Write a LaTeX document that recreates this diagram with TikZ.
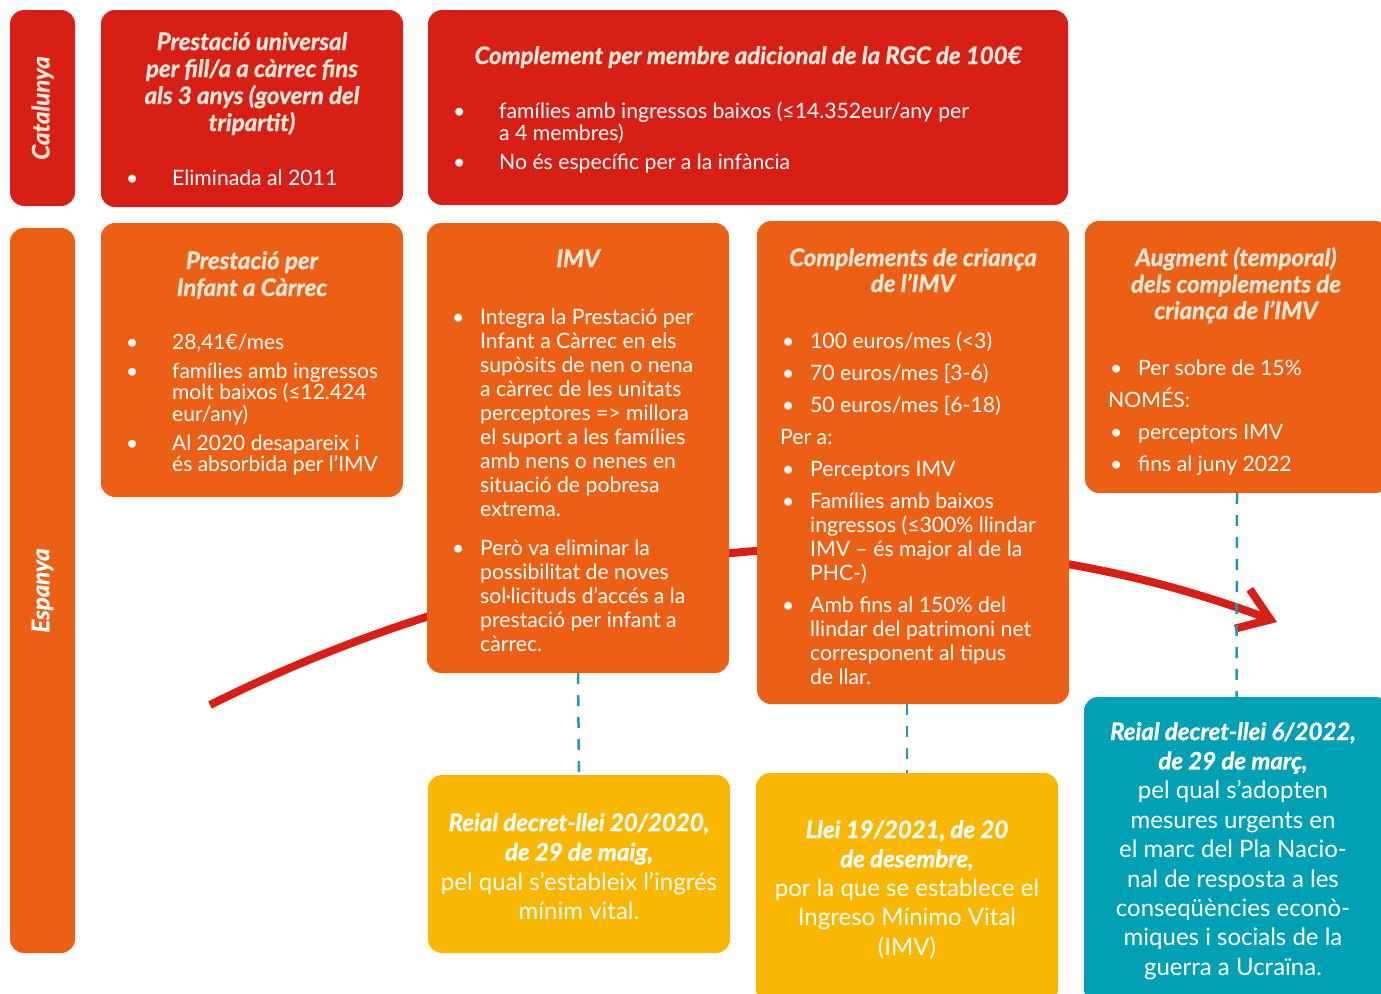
\documentclass[tikz,border=0pt]{standalone}
\usepackage{fontspec}
\setmainfont{Lato}
\newfontfamily\heavyf{Lato}[FakeBold=1.2]
\usetikzlibrary{arrows.meta}
\definecolor{cred}{RGB}{215,31,22}
\definecolor{corange}{RGB}{236,96,22}
\definecolor{cyellow}{RGB}{249,183,0}
\definecolor{cteal}{RGB}{0,160,181}
\definecolor{ccream}{RGB}{238,230,214}
\definecolor{cdash}{RGB}{27,156,175}
\newcommand\vt[2]{\vtop{\hsize=#1pt\parindent=0pt\parskip=0pt\rightskip=0pt plus 1fil\relax #2\par}}
\newcommand\vc[2]{\vtop{\hsize=#1pt\centering\parskip=0pt\relax #2\par}}
\newcommand\itm[3]{\par\hangindent=#2pt\hangafter=1\noindent\hspace*{#1pt}\makebox[\dimexpr#2pt-#1pt\relax][l]{\textbullet}#3\par}
\newcommand\ttlfont{\heavyf\bfseries\itshape}
\newcommand\bodysize{\fontsize{21.2}{24}\selectfont}
\tikzset{
  box/.style={rounded corners=14pt, inner sep=0pt, draw=none},
  txt/.style={inner sep=0pt, anchor=base west, text=white},
  ttl/.style={inner sep=0pt, anchor=base, text=ccream},
  ctr/.style={inner sep=0pt, anchor=base, text=white},
  dashln/.style={draw=cdash, line width=2.5pt, dash pattern=on 11pt off 11pt},
  redline/.style={draw=cred, line width=8pt}
}
\begin{document}
\begin{tikzpicture}[x=1pt,y=-1pt]
\fill[white] (0,0) rectangle (1381,993);
\useasboundingbox (0,0) rectangle (1381,993);

% red curve (behind boxes)
\coordinate (cs) at (210,705);
\coordinate (ce) at (1277,622);
\draw[redline, -{Straight Barb[length=30pt,width=42pt]}] (cs) .. controls (500,560) and (900,480) .. (ce);

% row labels
\node[box, fill=cred, minimum width=65pt, minimum height=196pt] (cat) at (42.5,108) {};
\node[rotate=90, inner sep=0pt, text=ccream, font=\ttlfont\fontsize{24}{27}\selectfont] (catl) at (cat.center) {Catalunya};
\node[box, fill=corange, minimum width=65pt, minimum height=725pt] (esp) at (42.5,590.5) {};
\node[rotate=90, inner sep=0pt, text=white, font=\ttlfont\fontsize{24}{27}\selectfont] (espl) at (esp.center) {Espanya};

% Catalunya boxes
\node[box, fill=cred, minimum width=302pt, minimum height=197pt] (b1) at (252,108.5) {};
\node[ttl] (b1t) at (252,50) {\vc{300}{\fontsize{24}{27}\selectfont\ttlfont Prestació universal\\per fill/a a càrrec fins\\als 3 anys (govern del\\tripartit)}};
\node[txt] (b1l) at (126,185) {\vt{270}{\bodysize\itm{0}{46}{Eliminada al 2011}}};

\node[box, fill=cred, minimum width=640pt, minimum height=195pt] (b2) at (748,107.5) {};
\node[ttl] (b2t) at (748,64) {\vc{630}{\fontsize{24}{27}\selectfont\ttlfont Complement per membre adicional de la RGC de 100€}};
\node[txt] (b2l) at (453,118) {\vt{600}{\fontsize{21.2}{22}\selectfont
  \itm{0}{46}{famílies amb ingressos baixos (≤14.352eur/any per\\a 4 membres)}\vspace{7pt}
  \itm{0}{46}{No és específic per a la infància}}};

% Espanya boxes
\node[box, fill=corange, minimum width=302pt, minimum height=274pt] (pic) at (252,360) {};
\node[ttl] (pict) at (252,269) {\vc{300}{\fontsize{24}{27}\selectfont\ttlfont Prestació per\\Infant a Càrrec}};
\node[txt] (picl) at (126,349) {\vt{290}{\fontsize{21}{21.5}\selectfont
  \itm{0}{46}{28,41€/mes}\vspace{7.5pt}
  \itm{0}{46}{famílies amb ingressos\\molt baixos (≤12.424\\eur/any)}\vspace{7.5pt}
  \itm{0}{46}{Al 2020 desapareix i\\és absorbida per l’IMV}}};

\node[box, fill=corange, minimum width=302pt, minimum height=450pt] (imv) at (578,448) {};
\node[ttl] (imvt) at (578,267) {\vc{300}{\fontsize{24}{27}\selectfont\ttlfont IMV}};
\node[txt] (imvl) at (452,324) {\vt{290}{\bodysize
  \itm{0}{28}{Integra la Prestació per\\Infant a Càrrec en els\\supòsits de nen o nena\\a càrrec de les unitats\\perceptores => millora\\el suport a les famílies\\amb nens o nenes en\\situació de pobresa\\extrema.}\vspace{15pt}
  \itm{0}{28}{Però va eliminar la\\possibilitat de noves\\sol·licituds d’accés a la\\prestació per infant a\\càrrec.}}};

\node[box, fill=corange, minimum width=312pt, minimum height=483pt] (comp) at (913,462.5) {};
\node[ttl] (compt) at (913,266) {\vc{310}{\fontsize{24}{26}\selectfont\ttlfont Complements de criança\\de l’IMV}};
\node[txt] (compl) at (780,348) {\vt{300}{\bodysize
  \itm{2}{30}{100 euros/mes (<3)}\vspace{8pt}
  \itm{2}{30}{70 euros/mes [3-6)}\vspace{8pt}
  \itm{2}{30}{50 euros/mes [6-18)}\vspace{8pt}
  \noindent Per a:\par\vspace{8pt}
  \itm{2}{30}{Perceptors IMV}\vspace{8pt}
  \itm{2}{30}{Famílies amb baixos\\ingressos (≤300\% llindar\\IMV – és major al de la\\PHC-)}\vspace{8pt}
  \itm{2}{30}{Amb fins al 150\% del\\llindar del patrimoni net\\corresponent al tipus\\de llar.}}};

\node[box, fill=corange, minimum width=304pt, minimum height=272pt] (aug) at (1237,357) {};
\node[ttl] (augt) at (1236,266) {\vc{300}{\fontsize{24}{26.5}\selectfont\ttlfont Augment (temporal)\\dels complements de\\criança de l’IMV}};
\node[txt] (augl) at (1108,375) {\vt{270}{\bodysize
  \itm{2}{30}{Per sobre de 15\%}\vspace{8pt}
  \noindent NOMÉS:\par\vspace{8pt}
  \itm{2}{30}{perceptors IMV}\vspace{8pt}
  \itm{2}{30}{fins al juny 2022}}};

% laws
\node[box, fill=cyellow, minimum width=302pt, minimum height=178pt] (y1) at (579,864) {};
\node[ctr] (y1t) at (579,831) {\vc{300}{\fontsize{24}{29.5}\selectfont
  {\ttlfont Reial decret-llei 20/2020,\\de 29 de maig,}\\pel qual s’estableix l’ingrés\\mínim vital.}};

\node[box, fill=cyellow, minimum width=302pt, minimum height=230pt] (y2) at (907,888) {};
\node[ctr] (y2t) at (907,838) {\vc{300}{\fontsize{24}{29.3}\selectfont
  {\ttlfont Llei 19/2021, de 20\\de desembre,}\\por la que se establece el\\Ingreso Mínimo Vital\\(IMV)}};

\node[box, fill=cteal, minimum width=305pt, minimum height=306pt] (teal) at (1236.5,850) {};
\node[ctr] (tealt) at (1233,740) {\vc{300}{\fontsize{24}{29.4}\selectfont
  {\ttlfont Reial decret-llei 6/2022,\\de 29 de març,}\\pel qual s’adopten\\mesures urgents en\\el marc del Pla Nacio-\\nal de resposta a les\\conseqüències econò-\\miques i socials de la\\guerra a Ucraïna.}};

% dashed links
\draw[dashln] (imv.south) -- (y1.north);
\draw[dashln] (comp.south -| y2.north) -- (y2.north);
\draw[dashln] (aug.south) -- (teal.north);
\end{tikzpicture}
\end{document}
